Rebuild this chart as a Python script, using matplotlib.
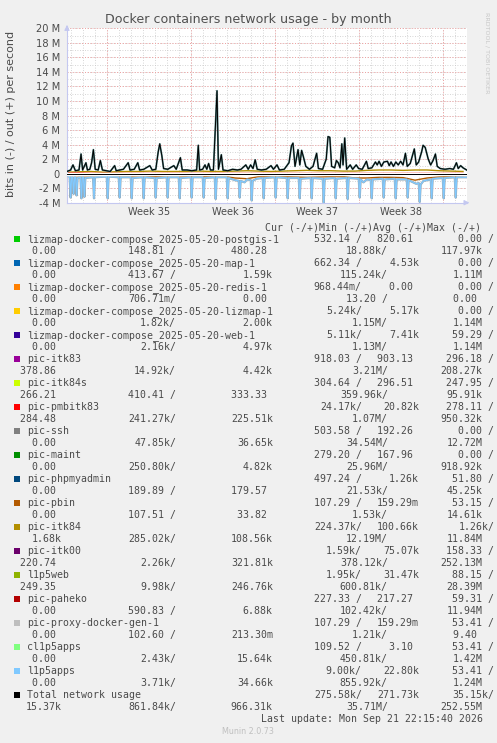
"""
Munin: Docker containers network usage - by month
"""
import matplotlib
matplotlib.use('Agg')
import matplotlib.pyplot as plt
from matplotlib.patches import Rectangle

W, H = 497, 743
BG = '#F0F0F0'
TXT = '#4a4a4a'
AXC = '#c4c8f0'

# ---------------- data (values in Mbit/s, x in days from left edge) ----------------
total_days = [0.0, 0.3, 0.5, 0.7, 1.0, 1.17, 1.3, 1.58, 1.7, 1.9, 2.05, 2.2, 2.35, 2.6, 2.78,
              2.95, 3.3, 3.6, 3.97, 4.1, 4.4, 4.7, 5.1, 5.25, 5.6, 5.9, 6.05, 6.4, 6.9, 7.1,
              7.4, 7.6, 7.73, 7.9, 8.05, 8.4, 8.9, 9.1, 9.45, 9.6, 10.0, 10.4, 10.8, 10.94,
              11.05, 11.3, 11.5, 11.65, 11.8, 11.95, 12.2, 12.5, 12.62, 12.86, 13.0, 13.4,
              13.8, 14.2, 14.5, 14.9, 15.1, 15.3, 15.5, 15.68, 15.85, 16.2, 16.6, 17.0, 17.2,
              17.5, 17.7, 18.1, 18.5, 18.7, 18.83, 19.0, 19.25, 19.4, 19.55, 19.7, 19.9, 20.2,
              20.5, 20.8, 20.95, 21.3, 21.6, 21.75, 21.9, 22.05, 22.3, 22.45, 22.6, 22.75,
              22.9, 23.0, 23.14, 23.3, 23.6, 23.8, 24.1, 24.3, 24.6, 24.95, 25.1, 25.4, 25.7,
              25.85, 26.0, 26.2, 26.4, 26.7, 26.85, 27.0, 27.2, 27.4, 27.6, 27.8, 28.0, 28.2,
              28.35, 28.6, 28.94, 29.1, 29.3, 29.55, 29.67, 29.85, 30.1, 30.3, 30.5, 30.7,
              30.85, 31.1, 31.5, 31.9, 32.2, 32.45, 32.6, 32.8, 33.0, 33.3]
total_out = [0.3, 0.5, 1.2, 0.4, 0.5, 2.7, 0.5, 1.5, 0.5, 0.6, 1.5, 3.3, 0.6, 0.5, 1.8,
             0.5, 0.4, 0.3, 1.1, 0.4, 0.5, 0.6, 1.5, 0.5, 0.6, 1.5, 0.5, 0.6, 1.1, 0.5,
             0.6, 3.0, 4.1, 2.5, 0.7, 0.6, 1.1, 0.6, 2.2, 0.5, 0.5, 0.4, 0.5, 3.9,
             0.5, 0.6, 1.2, 0.6, 1.4, 0.5, 0.5, 11.4, 0.6, 2.6, 0.5, 0.4,
             0.6, 0.5, 0.6, 1.2, 0.6, 1.2, 0.7, 1.9, 0.6, 0.5, 0.6, 1.1, 0.6,
             1.2, 0.5, 0.6, 1.5, 3.8, 4.2, 1.0, 3.3, 1.2, 3.2, 2.3, 1.0, 0.6,
             1.0, 2.8, 0.7, 0.6, 2.0, 5.1, 5.0, 1.0, 0.8, 1.8, 1.5, 0.8,
             4.1, 1.2, 4.9, 0.6, 1.2, 0.6, 1.2, 0.7, 0.6, 1.7, 0.7, 0.8, 1.6,
             1.2, 1.7, 1.0, 1.6, 1.7, 1.1, 1.6, 1.0, 1.6, 1.2, 1.7, 1.2, 2.8,
             1.0, 1.4, 3.4, 1.2, 1.6, 3.0, 3.9, 3.6, 2.0, 1.2, 1.8, 2.7,
             1.0, 0.7, 0.6, 0.7, 0.6, 1.5, 0.7, 1.1, 0.8, 0.5]

apps_days = [0.0, 0.22, 0.3, 0.38, 0.47, 0.55, 0.63, 0.72, 0.8, 0.88, 1.12, 1.2, 1.28, 1.37,
             1.45, 1.53, 2.17, 2.25, 2.33, 3.31, 3.39, 3.47, 4.31, 4.39, 4.47, 5.31, 5.39, 5.47,
             6.31, 6.39, 6.47, 7.31, 7.39, 7.47, 8.31, 8.39, 8.47, 9.31, 9.39, 9.47, 10.31,
             10.39, 10.47, 11.31, 11.39, 11.47, 12.31, 12.39, 12.47, 13.31, 13.39, 13.47,
             14.0, 14.31, 14.39, 14.47, 14.8, 15.0, 15.31, 15.39, 15.47, 15.8, 16.31, 16.39,
             16.47, 17.31, 17.39, 17.47, 18.31, 18.39, 18.47, 19.31, 19.39, 19.47, 20.31,
             20.39, 20.47, 21.31, 21.39, 21.47, 22.31, 22.39, 22.47, 23.31, 23.39, 23.47,
             24.31, 24.39, 24.47, 24.7, 25.0, 25.31, 25.39, 25.47, 26.31, 26.39, 26.47,
             27.31, 27.39, 27.47, 28.31, 28.39, 28.47, 29.1, 29.31, 29.39, 29.47, 29.7,
             30.31, 30.39, 30.47, 31.31, 31.39, 31.47, 32.31, 32.39, 32.47, 33.3]
apps_in = [-0.3, -0.4, -3.3, -0.5, -0.5, -2.8, -0.5, -0.5, -3.0, -0.6, -0.5, -3.4, -0.5, -0.5,
           -3.2, -0.6, -0.5, -3.4, -0.5, -0.4, -3.4, -0.4, -0.5, -3.3, -0.5, -0.5, -3.4, -0.6,
           -0.5, -3.4, -0.5, -0.6, -3.3, -0.6, -0.5, -3.3, -0.5, -0.5, -3.4, -0.6, -0.5,
           -3.3, -0.5, -0.5, -3.3, -0.6, -0.5, -3.5, -0.5, -0.5, -3.4, -0.6,
           -0.9, -1.0, -3.3, -1.0, -1.2, -0.8, -0.9, -3.7, -1.0, -0.7, -0.6, -3.4,
           -0.6, -0.5, -3.3, -0.5, -0.6, -3.4, -0.6, -0.6, -3.4, -0.7, -0.6,
           -3.4, -0.6, -0.7, -4.0, -0.7, -0.6, -3.4, -0.7, -0.6, -3.5, -0.6,
           -0.7, -3.3, -0.8, -1.2, -0.8, -0.9, -3.4, -0.8, -0.7, -3.3, -0.8,
           -0.7, -3.4, -0.8, -0.8, -3.3, -0.9, -1.4, -1.3, -3.9, -1.5, -1.0,
           -0.8, -3.4, -0.7, -0.6, -3.4, -0.6, -0.5, -3.3, -0.5, -0.5]

daily = list(range(34))
itk84_out = [0.2, 0.25, 0.3, 0.2, 0.25, 0.3, 0.3, 0.35, 0.3, 0.3, 0.3, 0.35, 0.3, 0.3, 0.35,
             0.4, 0.35, 0.3, 0.35, 0.4, 0.45, 0.4, 0.4, 0.35, 0.35, 0.45, 0.5, 0.5, 0.45,
             0.5, 0.5, 0.4, 0.35, 0.3]
itk84_in = [-0.2, -0.3, -0.3, -0.25, -0.3, -0.35, -0.3, -0.4, -0.35, -0.3, -0.35, -0.4,
            -0.35, -0.35, -0.6, -0.7, -0.4, -0.35, -0.4, -0.45, -0.5, -0.45, -0.4, -0.4,
            -0.6, -0.6, -0.5, -0.5, -0.55, -0.9, -0.6, -0.45, -0.4, -0.35]
pmb_out = [0.08, 0.1, 0.06, 0.05, 0.05, 0.05, 0.05, 0.05, 0.05, 0.05, 0.05, 0.05, 0.05, 0.05,
           0.05, 0.05, 0.05, 0.05, 0.05, 0.05, 0.05, 0.05, 0.05, 0.05, 0.05, 0.05, 0.05,
           0.05, 0.05, 0.05, 0.05, 0.05, 0.05, 0.05]
pmb_in = [-0.1, -0.12, -0.08, -0.06, -0.06, -0.06, -0.06, -0.06, -0.06, -0.06, -0.06, -0.06,
          -0.06, -0.06, -0.06, -0.06, -0.06, -0.06, -0.06, -0.06, -0.06, -0.06, -0.06, -0.06,
          -0.06, -0.06, -0.06, -0.06, -0.06, -0.06, -0.06, -0.06, -0.06, -0.06]

week_edges = [3.33, 10.33, 17.33, 24.33, 31.33]
week_labels = ['Week 35', 'Week 36', 'Week 37', 'Week 38']
yticks = [-4, -2, 0, 2, 4, 6, 8, 10, 12, 14, 16, 18, 20]
ytick_labels = ['-4 M', '-2 M', '0', '2 M', '4 M', '6 M', '8 M', '10 M', '12 M', '14 M',
                '16 M', '18 M', '20 M']

names = ['lizmap-docker-compose_2025-05-20-postgis-1', 'lizmap-docker-compose_2025-05-20-map-1',
         'lizmap-docker-compose_2025-05-20-redis-1', 'lizmap-docker-compose_2025-05-20-lizmap-1',
         'lizmap-docker-compose_2025-05-20-web-1', 'pic-itk83', 'pic-itk84s', 'pic-pmbitk83',
         'pic-ssh', 'pic-maint', 'pic-phpmyadmin', 'pic-pbin', 'pic-itk84', 'pic-itk00',
         'l1p5web', 'pic-paheko', 'pic-proxy-docker-gen-1', 'cl1p5apps', 'l1p5apps',
         'Total network usage']
colors = ['#00CC00', '#0066B3', '#FF8000', '#FFCC00', '#330099', '#990099', '#CCFF00',
          '#FF0000', '#808080', '#008F00', '#00487D', '#B35A00', '#B38F00', '#6B006B',
          '#8FB300', '#B30000', '#BEBEBE', '#80FF80', '#80C9FF', '#000000']
cur_in = ['532.14 /', '662.34 /', '968.44m/', '5.24k/', '5.11k/', '918.03 /', '304.64 /',
          '24.17k/', '503.58 /', '279.20 /', '497.24 /', '107.29 /', '224.37k/', '1.59k/',
          '1.95k/', '227.33 /', '107.29 /', '109.52 /', '9.00k/', '275.58k/']
cur_out = ['820.61 ', '4.53k', '0.00 ', '5.17k', '7.41k', '903.13 ', '296.51 ', '20.82k',
           '192.26 ', '167.96 ', '1.26k', '159.29m', '100.66k', '75.07k', '31.47k', '217.27 ',
           '159.29m', '3.10 ', '22.80k', '271.73k']
min_in = ['0.00 /', '0.00 /', '0.00 /', '0.00 /', '59.29 /', '296.18 /', '247.95 /', '278.11 /',
          '0.00 /', '0.00 /', '51.80 /', '53.15 /', '1.26k/', '158.33 /', '88.15 /', '59.31 /',
          '53.41 /', '53.41 /', '53.41 /', '35.15k/']
min_out = ['0.00 ', '0.00 ', '0.00 ', '0.00 ', '0.00 ', '378.86 ', '266.21 ', '284.48 ',
           '0.00 ', '0.00 ', '0.00 ', '0.00 ', '1.68k', '220.74 ', '249.35 ', '0.00 ',
           '0.00 ', '0.00 ', '0.00 ', '15.37k']
avg_in = ['148.81 /', '413.67 /', '706.71m/', '1.82k/', '2.16k/', '14.92k/', '410.41 /',
          '241.27k/', '47.85k/', '250.80k/', '189.89 /', '107.51 /', '285.02k/', '2.26k/',
          '9.98k/', '590.83 /', '102.60 /', '2.43k/', '3.71k/', '861.84k/']
avg_out = ['480.28 ', '1.59k', '0.00 ', '2.00k', '4.97k', '4.42k', '333.33 ', '225.51k',
           '36.65k', '4.82k', '179.57 ', '33.82 ', '108.56k', '321.81k', '246.76k', '6.88k',
           '213.30m', '15.64k', '34.66k', '966.31k']
max_in = ['18.88k/', '115.24k/', '13.20 /', '1.15M/', '1.13M/', '3.21M/', '359.96k/', '1.07M/',
          '34.54M/', '25.96M/', '21.53k/', '1.53k/', '12.19M/', '378.12k/', '600.81k/',
          '102.42k/', '1.21k/', '450.81k/', '855.92k/', '35.71M/']
max_out = ['117.97k', '1.11M', '0.00 ', '1.14M', '1.14M', '208.27k', '95.91k', '950.32k',
           '12.72M', '918.92k', '45.25k', '14.61k', '11.84M', '252.13M', '28.39M', '11.94M',
           '9.40 ', '1.42M', '1.24M', '252.55M']

# ---------------- figure ----------------
fig = plt.figure(figsize=(W / 100, H / 100), dpi=100, facecolor=BG)


def fx(x):
    return x / W


def fy(y):
    return 1 - y / H


top, bot, left, right = 28.3, 202.7, 67.0, 467.0
ax = fig.add_axes([fx(left), fy(bot), (right - left) / W, (bot - top) / H])
ax.set_facecolor('white')
ax.set_xlim(0, 33.33)
ax.set_ylim(-4, 20)

# grid: minor grey, major red, dotted
for d in range(34):
    ax.axvline(d + 0.33, color='#c8c8c8', lw=0.6, ls=(0, (1, 2)), zorder=0)
for v in range(-4, 21):
    ax.axhline(v, color='#c8c8c8', lw=0.6, ls=(0, (1, 2)), zorder=0)
for d in week_edges:
    ax.axvline(d, color='#f0a0a0', lw=0.7, ls=(0, (1, 2)), zorder=0.5)
for v in yticks:
    ax.axhline(v, color='#f0a0a0', lw=0.7, ls=(0, (1, 2)), zorder=0.5)

# series
ax.plot(daily, itk84_out, color='#B38F00', lw=1.0, zorder=2)
ax.plot(daily, itk84_in, color='#B35A00', lw=1.0, zorder=2)
ax.plot(daily, pmb_out, color='#FF0000', lw=0.8, zorder=2)
ax.plot(daily, pmb_in, color='#FF0000', lw=0.8, zorder=2)
ax.plot(apps_days, apps_in, color='#9aaab4', lw=1.6, zorder=3)
ax.plot(apps_days, apps_in, color='#80C9FF', lw=0.9, zorder=3)
ax.plot(total_days, total_out, color='#4f8080', lw=1.3, zorder=4)
ax.plot(total_days, total_out, color='#000000', lw=0.7, zorder=5)
ax.axhline(0, color='white', lw=2.5, zorder=4)
ax.axhline(0, color='black', lw=0.7, zorder=5)

# axes
for s in ['top', 'right']:
    ax.spines[s].set_visible(False)
for s in ['left', 'bottom']:
    ax.spines[s].set_color(AXC)
    ax.spines[s].set_linewidth(0.8)
ax.annotate('', xy=(0, 1.035), xytext=(0, 0.99), xycoords='axes fraction',
            arrowprops=dict(arrowstyle='-|>,head_width=0.15,head_length=0.3', color=AXC, lw=0.8))
ax.annotate('', xy=(1.013, 0), xytext=(0.99, 0), xycoords='axes fraction',
            arrowprops=dict(arrowstyle='-|>,head_width=0.15,head_length=0.3', color=AXC, lw=0.8))

ax.set_yticks(yticks)
ax.set_yticklabels(ytick_labels)
ax.set_xticks([])
ax.tick_params(axis='y', length=0, pad=5, labelsize=7.1, labelcolor=TXT)
for i, lab in enumerate(week_labels):
    mid = (week_edges[i] + week_edges[i + 1]) / 2
    ax.text(mid, -4.55, lab, ha='center', va='top', fontsize=7, color=TXT)

fig.text(fx(248.5), fy(19), 'Docker containers network usage - by month', ha='center',
         va='center', fontsize=9.1, color='#505050')
fig.text(fx(10.7), fy(114), 'bits in (-) / out (+) per second', rotation=90, ha='center',
         va='center', fontsize=8, color=TXT)
fig.text(fx(487), fy(53), 'RRDTOOL / TOBI OETIKER', rotation=270, ha='center', va='center',
         fontsize=4.6, color='#c8c8c8')

# ---------------- legend ----------------
FS = 7.15
CW = FS * 100 / 72 * 0.602
mono = dict(family='DejaVu Sans Mono', fontsize=FS, color=TXT, va='center')


def put(right_px, y_px, s):
    fig.text(fx(right_px - len(s) * CW), fy(y_px), s, ha='left', **mono)


put(265 + 36 * CW, 227.7, 'Cur (-/+)Min (-/+)Avg (-/+)Max (-/+)')
for i, name in enumerate(names):
    ya = 239.3 + 24 * i
    yb = ya + 12
    fig.add_artist(Rectangle((fx(14), fy(ya + 3)), 6 / W, 6 / H, transform=fig.transFigure,
                             facecolor=colors[i], edgecolor='none'))
    fig.text(fx(26.7), fy(ya), name, ha='left', **mono)
    put(361.7, ya, cur_in[i])
    put(419.0, ya, cur_out[i])
    put(494.3, ya, min_in[i])
    put(61.7, yb, min_out[i])
    put(176.0, yb, avg_in[i])
    put(272.7, yb, avg_out[i])
    put(387.7, yb, max_in[i])
    put(482.5, yb, max_out[i])

put(482.3, 719.3, 'Last update: Mon Sep 21 22:15:40 2026')
fig.text(fx(248), fy(732), 'Munin 2.0.73', ha='center', va='center', fontsize=5.8,
         color='#c0c0c0')

fig.savefig('out.png', dpi=100, facecolor=BG)
